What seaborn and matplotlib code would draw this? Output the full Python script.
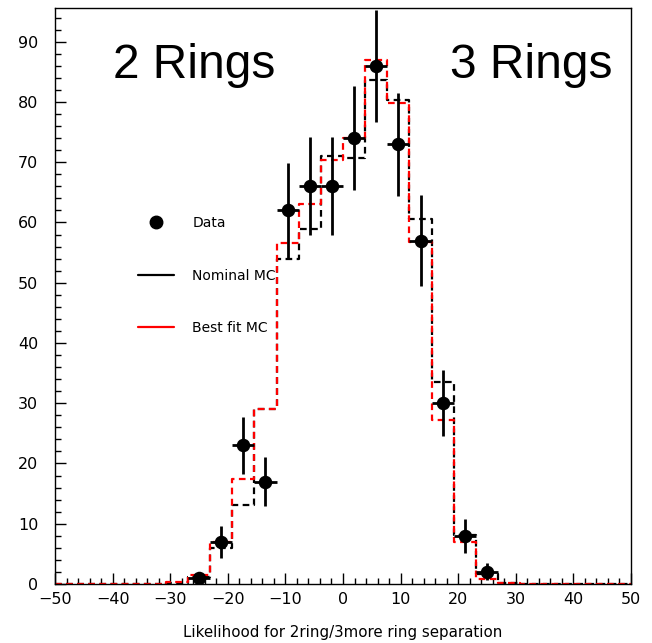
import numpy as np
import pandas as pd
import matplotlib
matplotlib.use("Agg")
import matplotlib.pyplot as plt
import seaborn as sns
from matplotlib.lines import Line2D
from matplotlib.ticker import MultipleLocator

# ---- data ----
n_bins = 26
x_min, x_max = -50, 50
data_bins = [6, 7, 8, 9, 10, 11, 12, 13, 14, 15, 16, 17, 18, 19]
data_counts = [1, 7, 23, 17, 62, 66, 66, 74, 86, 73, 57, 30, 8, 2]
nominal_mc = [0, 0, 0, 0, 0, 0.2, 1.2, 6.0, 13.1, 29.1, 53.9, 59.0, 71.0, 70.7,
              83.7, 80.4, 60.5, 33.6, 8.1, 1.6, 0.2, 0, 0, 0, 0, 0]
bestfit_mc = [0, 0, 0, 0, 0, 0.3, 1.5, 6.9, 17.4, 29.0, 56.6, 63.1, 70.3, 74.0,
              86.9, 79.9, 56.8, 27.2, 7.0, 0.9, 0.1, 0, 0, 0, 0, 0]
x_label = "Likelihood for 2ring/3more ring separation"
left_text = "2 Rings"
right_text = "3 Rings"

edges = np.linspace(x_min, x_max, n_bins + 1)
centers = 0.5 * (edges[:-1] + edges[1:])
width = edges[1] - edges[0]

sns.set_style("white")
plt.rcParams["font.family"] = ["DejaVu Sans"]
plt.rcParams["text.color"] = "black"
plt.rcParams["axes.labelcolor"] = "black"
plt.rcParams["xtick.color"] = "black"
plt.rcParams["ytick.color"] = "black"

fig = plt.figure(figsize=(6.52, 6.43), dpi=100)
ax = fig.add_axes([55 / 652, 1 - 584 / 643, 576 / 652, 576 / 643])

mc = pd.DataFrame({"x": centers, "nominal": nominal_mc, "bestfit": bestfit_mc})
sns.histplot(data=mc, x="x", weights="nominal", bins=n_bins, binrange=(x_min, x_max),
             element="step", fill=False, color="black", linewidth=1.6,
             linestyle=(0, (3, 2)), ax=ax)
sns.histplot(data=mc, x="x", weights="bestfit", bins=n_bins, binrange=(x_min, x_max),
             element="step", fill=False, color="#ff0000", linewidth=1.6,
             linestyle=(0, (3, 2)), ax=ax)

dx = centers[data_bins]
dy = np.array(data_counts, dtype=float)
ax.errorbar(dx, dy, yerr=np.sqrt(dy), xerr=width / 2, fmt="none",
            ecolor="black", elinewidth=2, capsize=0, zorder=4)
sns.scatterplot(x=dx, y=dy, color="black", s=95, edgecolor="black",
                linewidth=0, zorder=5, ax=ax)

ax.set_xlim(x_min, x_max)
ax.set_ylim(0, 95.6)
ax.set_xlabel(x_label, fontsize=10.8, labelpad=13)
ax.set_ylabel("")
ax.xaxis.set_major_locator(MultipleLocator(10))
ax.xaxis.set_minor_locator(MultipleLocator(2))
ax.yaxis.set_major_locator(MultipleLocator(10))
ax.yaxis.set_minor_locator(MultipleLocator(2))
ax.tick_params(which="both", direction="in", bottom=True, left=True,
               top=False, right=False, labelsize=11.5, color="black")
ax.tick_params(which="major", length=8, width=1)
ax.tick_params(which="minor", length=4, width=1)
ax.tick_params(axis="x", pad=6)
ax.tick_params(axis="y", pad=12)
for s in ax.spines.values():
    s.set_linewidth(1)
    s.set_color("black")

ax.text(0.242, 0.9, left_text, transform=ax.transAxes, ha="center", va="center",
        fontsize=34.5, family="Liberation Sans", color="black")
ax.text(0.826, 0.9, right_text, transform=ax.transAxes, ha="center", va="center",
        fontsize=34.5, family="Liberation Sans", color="black")

handles = [
    Line2D([], [], color="black", marker="o", linestyle="none", markersize=9),
    Line2D([], [], color="black", linewidth=1.6),
    Line2D([], [], color="#ff0000", linewidth=1.6),
]
ax.legend(handles, ["Data", "Nominal MC", "Best fit MC"], loc="upper left",
          bbox_to_anchor=(0.135, 0.648), frameon=False, fontsize=10,
          handlelength=2.6, handletextpad=1.3, labelspacing=2.75, borderaxespad=0,
          labelcolor="black")

fig.savefig("out.png", dpi=100)
